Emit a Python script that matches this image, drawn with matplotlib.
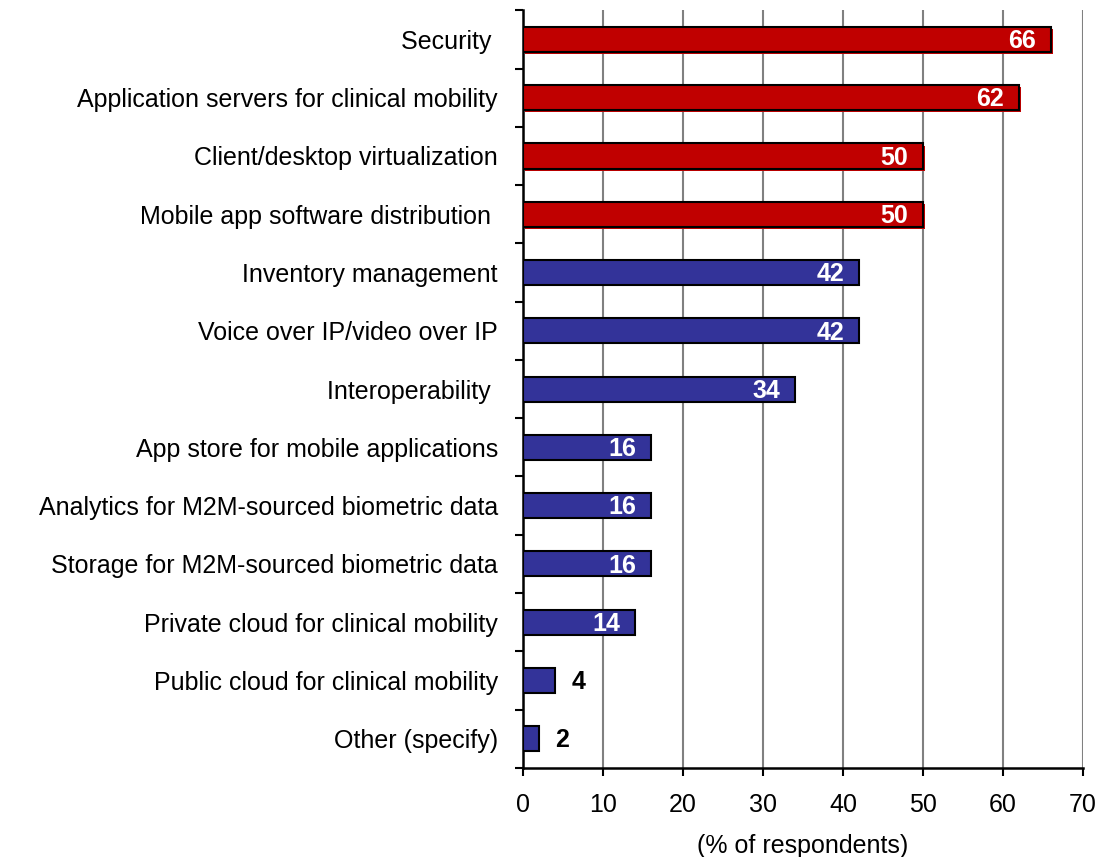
import numpy as np
import matplotlib.pyplot as plt
import matplotlib.patheffects as pe
from matplotlib.ticker import FixedLocator

plt.rcParams['font.family'] = ['Liberation Sans', 'DejaVu Sans']

categories = [
    'Security ',
    'Application servers for clinical mobility',
    'Client/desktop virtualization',
    'Mobile app software distribution ',
    'Inventory management',
    'Voice over IP/video over IP',
    'Interoperability ',
    'App store for mobile applications',
    'Analytics for M2M-sourced biometric data',
    'Storage for M2M-sourced biometric data',
    'Private cloud for clinical mobility',
    'Public cloud for clinical mobility',
    'Other (specify)',
]
values = [66, 62, 50, 50, 42, 42, 34, 16, 16, 16, 14, 4, 2]
n_top = 4  # highlighted top answers

red = '#C00000'
navy = '#333399'

fig = plt.figure(figsize=(11.08, 8.57), dpi=100)
ax = fig.add_axes([0.472, 0.104, 0.5054, 0.884])

y = np.arange(len(categories))
bars = ax.barh(y, values, height=0.43, color=navy, edgecolor='black', linewidth=1.5, zorder=3)
for i, b in enumerate(bars):
    if i < n_top:
        b.set_facecolor(red)
        # thin red drop shadow on the highlighted bars
        b.set_path_effects([pe.SimplePatchShadow(offset=(1.5, -1.5), shadow_rgbFace=red, alpha=1.0),
                            pe.Normal()])

ax.set_xlim(0, 70)
ax.set_ylim(len(categories) - 0.5, -0.5)
ax.set_xticks(np.arange(0, 71, 10))
ax.xaxis.grid(True, color='#808080', linewidth=1.5, zorder=0)

# category boundaries get the tick marks, names sit at the bar centres
ax.yaxis.set_major_locator(FixedLocator(np.arange(-0.5, len(categories), 1.0)))
ax.set_yticklabels([])
ax.yaxis.set_minor_locator(FixedLocator(y))
ax.set_yticklabels(categories, minor=True)
ax.tick_params(axis='y', which='major', length=6, width=1.5, direction='out')
ax.tick_params(axis='y', which='minor', length=0, pad=18, labelsize=18)
ax.tick_params(axis='x', length=6, width=1.5, direction='out', labelsize=18, pad=12)

for side in ['top', 'right']:
    ax.spines[side].set_visible(False)
for side in ['left', 'bottom']:
    ax.spines[side].set_linewidth(1.8)

ax.set_xlabel('(% of respondents)', fontsize=18, labelpad=12)

for yi, v in zip(y, values):
    if v >= 10:
        ax.text(v - 3.6, yi + 0.03, str(v), ha='center', va='center', color='white',
                fontsize=18, fontweight='bold', zorder=4)
    else:
        ax.text(v + 2.9, yi + 0.03, str(v), ha='center', va='center', color='black',
                fontsize=18, fontweight='bold', zorder=4)

fig.savefig('out.png', dpi=100)
